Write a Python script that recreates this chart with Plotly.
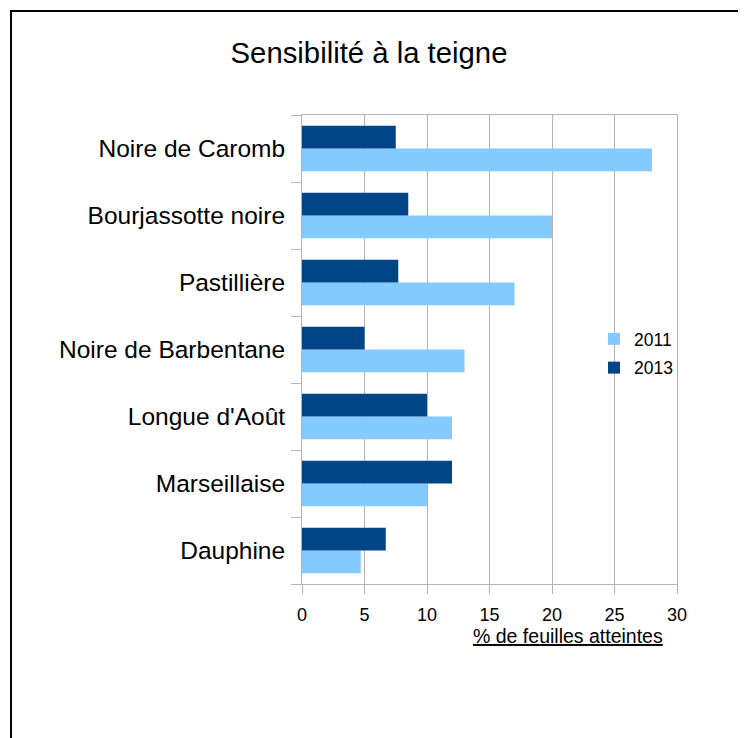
import plotly.graph_objects as go

categories = ["Noire de Caromb", "Bourjassotte noire", "Pastillière", "Noire de Barbentane",
              "Longue d'Août", "Marseillaise", "Dauphine"]
values_2011 = [28, 20, 17, 13, 12, 10, 4.7]
values_2013 = [7.5, 8.5, 7.7, 5.0, 10, 12, 6.7]
x_ticks = [0, 5, 10, 15, 20, 25, 30]

W, H = 746, 738
OFF = 8  # page body margin
# screen-pixel positions of the plot area
SX0, SX1, SY0, SY1 = 302, 677, 115, 584
L = SX0 - OFF
R = W - (SX1 - OFF)
T = SY0 - OFF
B = H - (SY1 - OFF)
pw, ph = SX1 - SX0, SY1 - SY0

def px(x):
    return (x - SX0) / pw

def py(y):
    return (SY1 - y) / ph

FONT = "Liberation Sans, Arial, sans-serif"
GRID = "#b3b3b3"

fig = go.Figure()
fig.add_trace(go.Bar(y=categories, x=values_2011, name="2011", orientation="h",
                     marker=dict(color="#83caff", line=dict(width=0)), legendgroup="a"))
fig.add_trace(go.Bar(y=categories, x=values_2013, name="2013", orientation="h",
                     marker=dict(color="#004586", line=dict(width=0)), legendgroup="b"))

fig.update_layout(
    width=W, height=H,
    margin=dict(l=L, r=R, t=T, b=B, autoexpand=False),
    paper_bgcolor="white", plot_bgcolor="white",
    barmode="group", bargap=0.318, bargroupgap=0,
    font=dict(family=FONT, color="black"),
    title=dict(text="Sensibilité à la teigne", x=(369 - OFF) / W, xanchor="center",
               y=1 - (53 - OFF) / H, yanchor="middle", yref="container",
               font=dict(size=29.3, family=FONT, color="black")),
    showlegend=True,
    legend=dict(x=px(594), xanchor="left", y=py(321), yanchor="top",
                bgcolor="rgba(0,0,0,0)", borderwidth=0,
                font=dict(size=17.5, family=FONT, color="black"),
                traceorder="grouped", tracegroupgap=3,
                itemwidth=30),
    xaxis=dict(range=[0, 30], tickvals=x_ticks, ticktext=[str(v) for v in x_ticks],
               showgrid=True, gridcolor=GRID, gridwidth=1,
               showline=True, linecolor=GRID, linewidth=1, mirror=True,
               ticks="outside", ticklen=9, tickcolor=GRID, tickwidth=1,
               tickfont=dict(size=18, family=FONT, color="black"),
               ticklabelstandoff=5,
               zeroline=False, fixedrange=True),
    yaxis=dict(categoryorder="array", categoryarray=categories[::-1],
               showgrid=False, showline=True, linecolor=GRID, linewidth=1, mirror=True,
               ticks="outside", tickson="boundaries", ticklen=10, tickcolor=GRID, tickwidth=1,
               tickfont=dict(size=24.5, family=FONT, color="black"),
               ticklabelstandoff=11,
               zeroline=False, fixedrange=True),
)

fig.add_annotation(text="<u>% de feuilles atteintes</u>", xref="paper", yref="paper",
                   x=px(665), xanchor="right", y=py(636), yanchor="middle",
                   showarrow=False, font=dict(size=19.5, family=FONT, color="black"))

# outer frame (left and top edges)
fig.add_shape(type="line", xref="paper", yref="paper", x0=px(11), x1=px(11),
              y0=py(10), y1=py(780), line=dict(color="black", width=2))
fig.add_shape(type="line", xref="paper", yref="paper", x0=px(10), x1=px(780),
              y0=py(11), y1=py(11), line=dict(color="black", width=2))

fig.write_html("out.html")
